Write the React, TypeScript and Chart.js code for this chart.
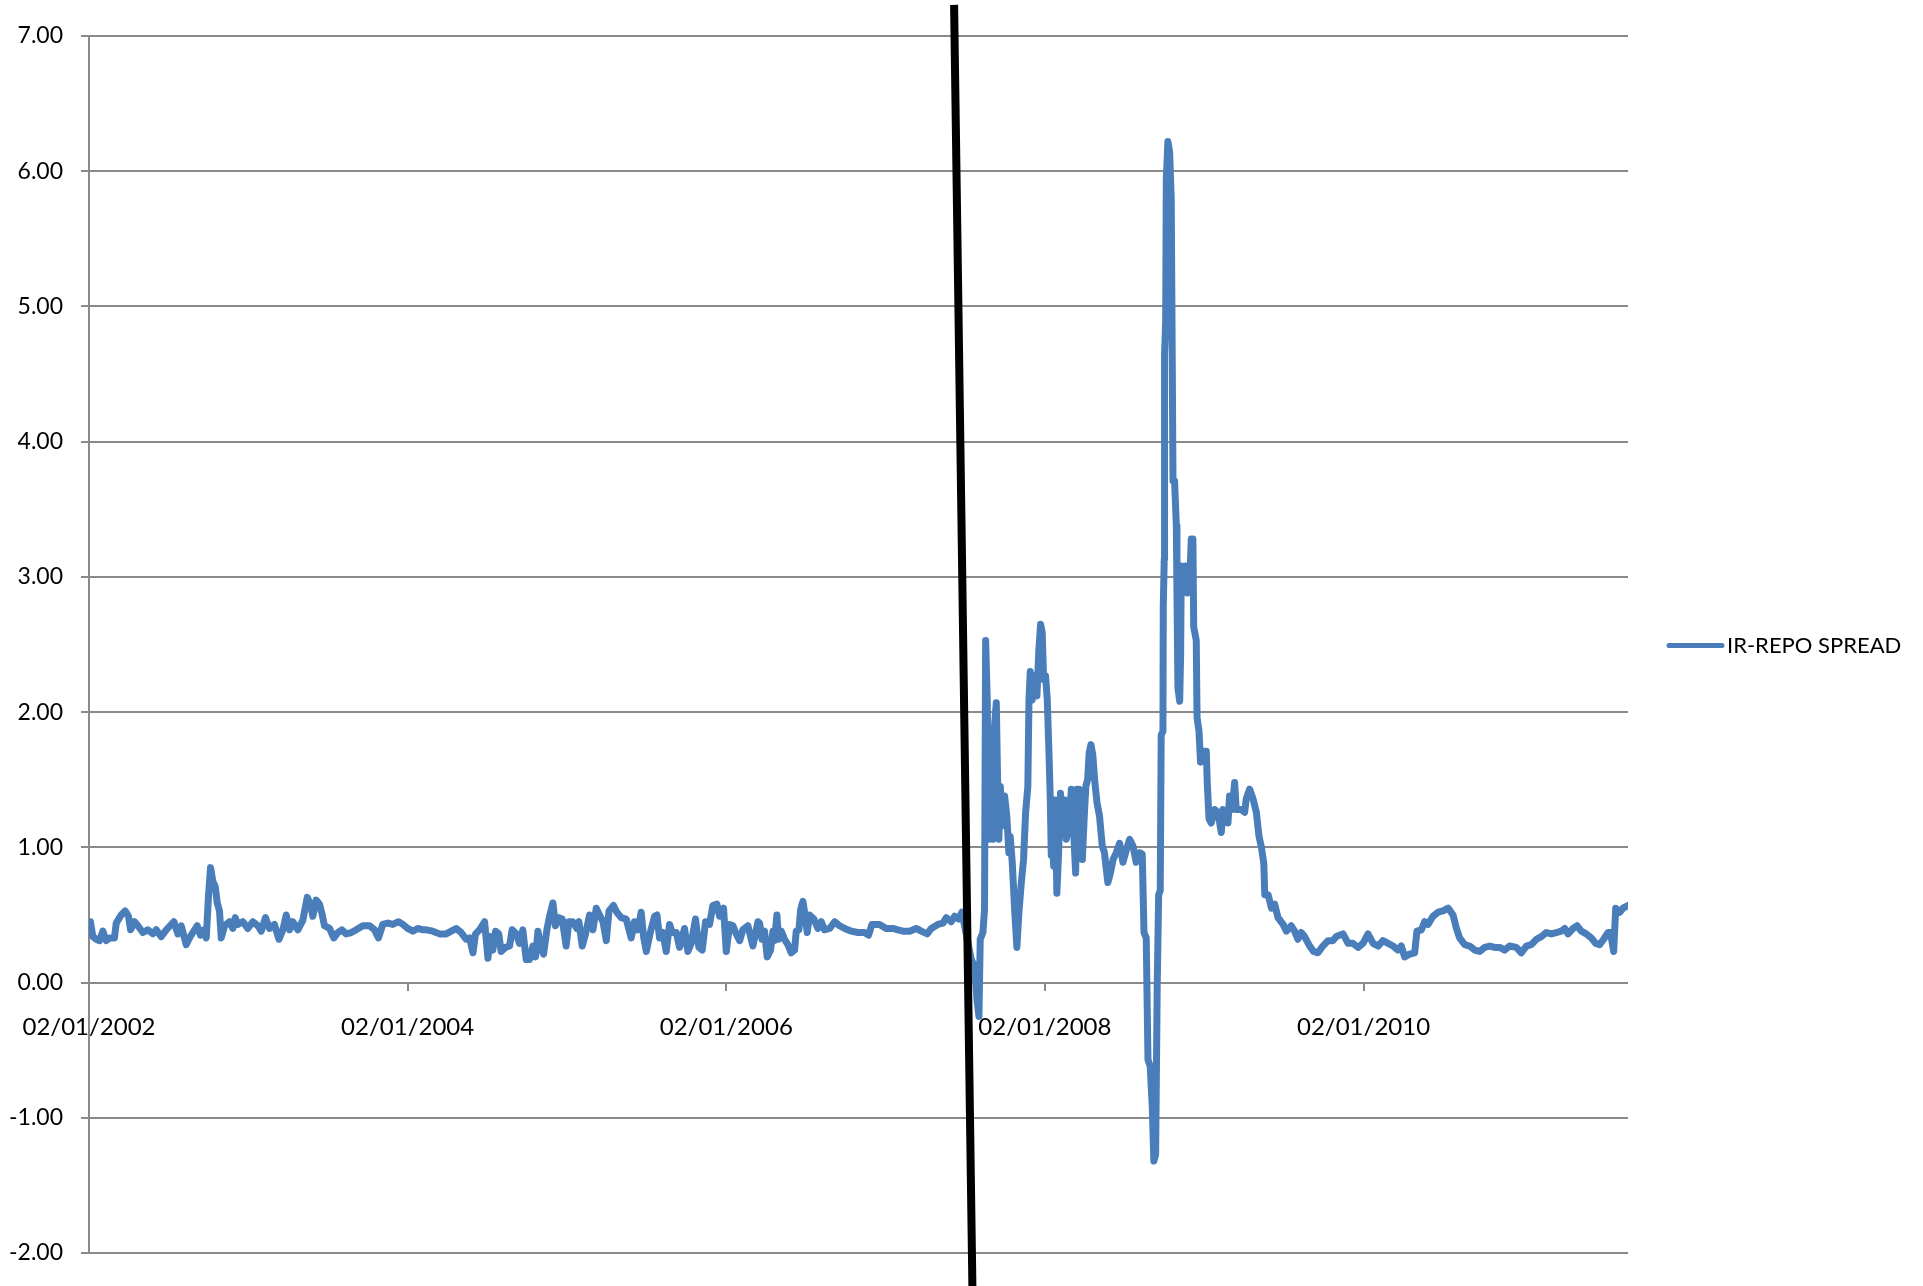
import React, { useEffect, useRef } from 'react';
import { Chart, registerables } from 'chart.js';

Chart.register(...registerables);

const seriesLabel = 'IR-REPO SPREAD';
const tickYears = [2002, 2004, 2006, 2008, 2010];
const tickLabels = ['02/01/2002', '02/01/2004', '02/01/2006', '02/01/2008', '02/01/2010'];
const yMin = -2;
const yMax = 7;
const xMin = 2002;
const xMax = 2011.66;

// 2002 - 2004
const dates2002 = [2002.009, 2002.024, 2002.045, 2002.066, 2002.087, 2002.108, 2002.129, 2002.16, 2002.171, 2002.202, 2002.227, 2002.248, 2002.261, 2002.286, 2002.307, 2002.338, 2002.369, 2002.401, 2002.422, 2002.453, 2002.485, 2002.533, 2002.558, 2002.579, 2002.61, 2002.631, 2002.652, 2002.679, 2002.7, 2002.721, 2002.736, 2002.75, 2002.763, 2002.777, 2002.792, 2002.805, 2002.819, 2002.83, 2002.851, 2002.882, 2002.903, 2002.918, 2002.934, 2002.966, 2002.997, 2003.028, 2003.06, 2003.081, 2003.108, 2003.133, 2003.164, 2003.192, 2003.217, 2003.238, 2003.259, 2003.279, 2003.311, 2003.342, 2003.37, 2003.39, 2003.405, 2003.426, 2003.447, 2003.462, 2003.478, 2003.51, 2003.537, 2003.562, 2003.587, 2003.614, 2003.646, 2003.677, 2003.719, 2003.761, 2003.792, 2003.817, 2003.844, 2003.876, 2003.907, 2003.943, 2003.97, 2004.001, 2004.033, 2004.064, 2004.096];
const spread2002 = [0.45, 0.34, 0.32, 0.31, 0.38, 0.31, 0.33, 0.33, 0.44, 0.5, 0.53, 0.49, 0.39, 0.45, 0.42, 0.37, 0.39, 0.36, 0.39, 0.34, 0.39, 0.45, 0.36, 0.42, 0.28, 0.33, 0.37, 0.42, 0.35, 0.39, 0.33, 0.64, 0.85, 0.75, 0.71, 0.59, 0.53, 0.33, 0.42, 0.45, 0.4, 0.48, 0.43, 0.45, 0.4, 0.45, 0.42, 0.38, 0.48, 0.4, 0.43, 0.32, 0.39, 0.5, 0.39, 0.45, 0.39, 0.46, 0.63, 0.58, 0.49, 0.61, 0.58, 0.51, 0.42, 0.4, 0.33, 0.37, 0.39, 0.36, 0.37, 0.39, 0.42, 0.42, 0.39, 0.33, 0.43, 0.44, 0.43, 0.45, 0.43, 0.4, 0.38, 0.4, 0.39];

// 2004 - 2006
const dates2004 = [2004.117, 2004.158, 2004.2, 2004.242, 2004.274, 2004.305, 2004.336, 2004.368, 2004.389, 2004.41, 2004.426, 2004.452, 2004.483, 2004.504, 2004.518, 2004.535, 2004.552, 2004.572, 2004.587, 2004.614, 2004.64, 2004.656, 2004.682, 2004.702, 2004.723, 2004.744, 2004.765, 2004.786, 2004.803, 2004.818, 2004.832, 2004.853, 2004.874, 2004.891, 2004.912, 2004.928, 2004.949, 2004.97, 2004.995, 2005.012, 2005.037, 2005.062, 2005.075, 2005.096, 2005.117, 2005.142, 2005.163, 2005.184, 2005.205, 2005.226, 2005.247, 2005.264, 2005.292, 2005.313, 2005.341, 2005.372, 2005.403, 2005.424, 2005.445, 2005.466, 2005.481, 2005.498, 2005.523, 2005.55, 2005.565, 2005.581, 2005.602, 2005.623, 2005.644, 2005.661, 2005.686, 2005.707, 2005.738, 2005.759, 2005.78, 2005.807, 2005.828, 2005.849, 2005.87, 2005.895, 2005.916, 2005.941, 2005.958, 2005.983, 2006.0, 2006.021, 2006.042, 2006.058, 2006.084, 2006.104, 2006.136, 2006.167, 2006.199];
const spread2004 = [0.39, 0.38, 0.36, 0.36, 0.38, 0.4, 0.37, 0.32, 0.33, 0.22, 0.36, 0.39, 0.45, 0.18, 0.34, 0.24, 0.38, 0.36, 0.23, 0.26, 0.27, 0.39, 0.36, 0.29, 0.39, 0.17, 0.17, 0.27, 0.19, 0.38, 0.28, 0.21, 0.39, 0.49, 0.59, 0.42, 0.48, 0.47, 0.27, 0.45, 0.45, 0.4, 0.45, 0.27, 0.36, 0.5, 0.39, 0.55, 0.5, 0.45, 0.31, 0.53, 0.57, 0.52, 0.48, 0.47, 0.33, 0.45, 0.39, 0.52, 0.34, 0.23, 0.37, 0.49, 0.5, 0.33, 0.37, 0.23, 0.43, 0.37, 0.37, 0.26, 0.4, 0.23, 0.29, 0.47, 0.26, 0.24, 0.45, 0.43, 0.57, 0.58, 0.49, 0.55, 0.23, 0.43, 0.42, 0.37, 0.31, 0.39, 0.42, 0.27, 0.45];

// 2006 - mid 2007
const dates2006 = [2006.209, 2006.224, 2006.24, 2006.257, 2006.278, 2006.293, 2006.303, 2006.318, 2006.328, 2006.345, 2006.366, 2006.387, 2006.408, 2006.429, 2006.439, 2006.456, 2006.467, 2006.481, 2006.496, 2006.508, 2006.523, 2006.55, 2006.575, 2006.596, 2006.617, 2006.649, 2006.68, 2006.711, 2006.743, 2006.785, 2006.826, 2006.868, 2006.893, 2006.914, 2006.962, 2007.004, 2007.046, 2007.077, 2007.109, 2007.151, 2007.192, 2007.224, 2007.261, 2007.287, 2007.328, 2007.36, 2007.381, 2007.412, 2007.433, 2007.459, 2007.479];
const spread2006 = [0.44, 0.32, 0.38, 0.19, 0.24, 0.38, 0.31, 0.5, 0.32, 0.38, 0.32, 0.28, 0.22, 0.24, 0.38, 0.39, 0.54, 0.6, 0.49, 0.37, 0.5, 0.47, 0.4, 0.45, 0.39, 0.4, 0.45, 0.42, 0.4, 0.38, 0.37, 0.37, 0.35, 0.43, 0.43, 0.4, 0.4, 0.39, 0.38, 0.38, 0.4, 0.38, 0.36, 0.4, 0.43, 0.44, 0.48, 0.45, 0.49, 0.47, 0.52];

// mid 2007 - mid 2008
const dates2007 = [2007.538, 2007.559, 2007.574, 2007.586, 2007.594, 2007.611, 2007.621, 2007.628, 2007.638, 2007.647, 2007.659, 2007.674, 2007.684, 2007.695, 2007.703, 2007.711, 2007.72, 2007.732, 2007.747, 2007.761, 2007.774, 2007.782, 2007.795, 2007.81, 2007.824, 2007.837, 2007.852, 2007.866, 2007.879, 2007.893, 2007.9, 2007.908, 2007.92, 2007.935, 2007.95, 2007.962, 2007.973, 2007.983, 2007.992, 2008.004, 2008.015, 2008.025, 2008.034, 2008.04, 2008.046, 2008.055, 2008.065, 2008.075, 2008.086, 2008.098, 2008.109, 2008.125, 2008.134, 2008.151, 2008.166, 2008.18, 2008.193, 2008.201, 2008.214, 2008.222, 2008.235, 2008.247, 2008.257, 2008.268, 2008.278, 2008.289, 2008.301, 2008.312, 2008.327, 2008.343, 2008.36, 2008.374, 2008.395, 2008.411, 2008.428, 2008.448, 2008.469, 2008.49, 2008.511, 2008.532, 2008.553, 2008.573, 2008.594, 2008.611];
const spread2007 = [0.17, 0.12, -0.13, -0.25, 0.32, 0.37, 0.54, 2.53, 2.09, 1.06, 1.77, 1.06, 1.9, 2.07, 1.5, 1.06, 1.45, 1.16, 1.38, 1.23, 0.96, 1.08, 0.89, 0.54, 0.26, 0.52, 0.74, 0.91, 1.26, 1.45, 2.09, 2.3, 2.09, 2.27, 2.12, 2.46, 2.65, 2.59, 2.24, 2.27, 2.09, 1.72, 1.35, 0.94, 1.23, 0.86, 1.35, 0.66, 0.96, 1.4, 1.11, 1.35, 1.06, 1.16, 1.43, 1.13, 0.81, 1.43, 1.43, 1.16, 0.91, 1.23, 1.45, 1.5, 1.7, 1.76, 1.68, 1.5, 1.33, 1.23, 1.01, 0.96, 0.74, 0.81, 0.91, 0.96, 1.03, 0.89, 0.98, 1.06, 1.01, 0.89, 0.96, 0.95];

// mid 2008 - mid 2009
const dates2008 = [2008.622, 2008.636, 2008.647, 2008.661, 2008.674, 2008.684, 2008.695, 2008.705, 2008.714, 2008.724, 2008.73, 2008.741, 2008.743, 2008.749, 2008.751, 2008.758, 2008.762, 2008.772, 2008.783, 2008.793, 2008.804, 2008.814, 2008.825, 2008.829, 2008.835, 2008.846, 2008.852, 2008.856, 2008.867, 2008.882, 2008.894, 2008.909, 2008.919, 2008.929, 2008.934, 2008.95, 2008.955, 2008.967, 2008.977, 2008.992, 2009.013, 2009.019, 2009.03, 2009.044, 2009.065, 2009.086, 2009.107, 2009.118, 2009.134, 2009.149, 2009.159, 2009.176, 2009.191, 2009.201, 2009.233, 2009.254, 2009.264, 2009.285, 2009.306, 2009.327, 2009.344, 2009.359, 2009.374, 2009.38, 2009.401, 2009.422, 2009.442, 2009.463, 2009.495, 2009.516];
const spread2008 = [0.37, 0.33, -0.57, -0.62, -0.92, -1.32, -1.27, -0.02, 0.65, 0.68, 1.83, 1.86, 2.78, 3.13, 4.64, 4.89, 5.94, 6.22, 6.14, 5.79, 3.71, 3.71, 3.38, 2.88, 2.18, 2.08, 2.43, 3.08, 2.98, 3.08, 2.88, 2.98, 3.28, 3.28, 2.63, 2.53, 1.96, 1.86, 1.63, 1.71, 1.71, 1.48, 1.21, 1.18, 1.28, 1.26, 1.11, 1.28, 1.23, 1.18, 1.38, 1.28, 1.48, 1.28, 1.28, 1.26, 1.36, 1.43, 1.36, 1.26, 1.08, 1.0, 0.88, 0.65, 0.65, 0.55, 0.58, 0.48, 0.43, 0.38];

// mid 2009 - 2011
const dates2009 = [2009.546, 2009.567, 2009.588, 2009.609, 2009.63, 2009.662, 2009.686, 2009.714, 2009.745, 2009.777, 2009.808, 2009.829, 2009.871, 2009.903, 2009.934, 2009.965, 2009.997, 2010.028, 2010.06, 2010.091, 2010.122, 2010.154, 2010.185, 2010.216, 2010.237, 2010.258, 2010.289, 2010.321, 2010.335, 2010.363, 2010.384, 2010.405, 2010.436, 2010.468, 2010.499, 2010.531, 2010.562, 2010.583, 2010.603, 2010.635, 2010.666, 2010.698, 2010.729, 2010.76, 2010.792, 2010.823, 2010.855, 2010.886, 2010.917, 2010.959, 2010.99, 2011.022, 2011.053, 2011.085, 2011.116, 2011.147, 2011.179, 2011.21, 2011.241, 2011.263, 2011.284, 2011.315, 2011.341, 2011.367, 2011.398, 2011.43, 2011.457, 2011.482, 2011.507, 2011.535, 2011.55, 2011.57, 2011.583, 2011.608, 2011.629, 2011.66];
const spread2009 = [0.42, 0.38, 0.32, 0.37, 0.34, 0.27, 0.23, 0.22, 0.27, 0.31, 0.31, 0.34, 0.36, 0.29, 0.29, 0.26, 0.29, 0.36, 0.29, 0.27, 0.31, 0.29, 0.27, 0.24, 0.27, 0.19, 0.21, 0.22, 0.38, 0.39, 0.45, 0.43, 0.49, 0.52, 0.53, 0.55, 0.5, 0.4, 0.33, 0.28, 0.27, 0.24, 0.23, 0.26, 0.27, 0.26, 0.26, 0.24, 0.27, 0.26, 0.22, 0.27, 0.28, 0.32, 0.34, 0.37, 0.36, 0.37, 0.38, 0.4, 0.36, 0.4, 0.42, 0.38, 0.36, 0.33, 0.29, 0.28, 0.32, 0.37, 0.37, 0.23, 0.55, 0.52, 0.55, 0.57];

// hand-drawn black marker line, in data coordinates (top end, bottom end)
const markerLine = { x1: 2007.43, y1: 7.23, x2: 2007.545, y2: -2.25 };

const allDates = [...dates2002, ...dates2004, ...dates2006, ...dates2007, ...dates2008, ...dates2009];
const allSpread = [...spread2002, ...spread2004, ...spread2006, ...spread2007, ...spread2008, ...spread2009];

const LINE_COLOR = '#4a7ebb';
const GRID_COLOR = '#8a8a8a';
const FONT = { family: 'Lato', size: 24 };
const Y_FONT = { family: 'Lato', size: 23 };
const LEGEND_FONT_SIZE = 22;

const overlayPlugin = {
  id: 'overlay',
  afterDatasetsDraw(chart: any) {
    const { ctx, chartArea } = chart;
    const xs = chart.scales.x;
    const ys = chart.scales.y;
    ctx.save();
    // marker line
    ctx.strokeStyle = '#000000';
    ctx.lineWidth = 8;
    ctx.lineCap = 'butt';
    ctx.beginPath();
    ctx.moveTo(xs.getPixelForValue(markerLine.x1), ys.getPixelForValue(markerLine.y1));
    ctx.lineTo(xs.getPixelForValue(markerLine.x2), ys.getPixelForValue(markerLine.y2));
    ctx.stroke();
    // legend
    const lx = chartArea.right + 41;
    const ly = (chartArea.top + chartArea.bottom) / 2 + 1;
    ctx.strokeStyle = LINE_COLOR;
    ctx.lineWidth = 5;
    ctx.lineCap = 'round';
    ctx.beginPath();
    ctx.moveTo(lx, ly);
    ctx.lineTo(lx + 53, ly);
    ctx.stroke();
    ctx.fillStyle = '#000000';
    ctx.font = `${LEGEND_FONT_SIZE}px Lato`;
    ctx.textAlign = 'left';
    ctx.textBaseline = 'middle';
    ctx.fillText(seriesLabel, lx + 58, ly);
    ctx.restore();
  },
};

export default function App() {
  const canvasRef = useRef<HTMLCanvasElement | null>(null);

  useEffect(() => {
    const canvas = canvasRef.current;
    if (!canvas) return;
    const points = allDates.map((d, i) => ({ x: d, y: allSpread[i] }));
    const chart = new Chart(canvas, {
      type: 'line',
      data: {
        datasets: [
          {
            label: seriesLabel,
            data: points,
            borderColor: LINE_COLOR,
            backgroundColor: LINE_COLOR,
            borderWidth: 7,
            pointRadius: 0,
            tension: 0,
            fill: false,
            borderJoinStyle: 'round',
            borderCapStyle: 'round',
          },
        ],
      },
      options: {
        responsive: false,
        maintainAspectRatio: false,
        animation: false,
        layout: { padding: { left: 0, right: 295, top: 36, bottom: 33 } },
        plugins: { legend: { display: false }, tooltip: { enabled: false } },
        scales: {
          x: {
            type: 'linear',
            position: { y: 0 } as any,
            min: xMin,
            max: xMax,
            afterFit: (s: any) => {
              s.height = 0;
            },
            afterBuildTicks: (s: any) => {
              s.ticks = tickYears.map((v) => ({ value: v }));
            },
            ticks: {
              autoSkip: false,
              maxRotation: 0,
              minRotation: 0,
              padding: 22,
              color: '#000000',
              font: FONT,
              callback: (v: any) => {
                const i = tickYears.indexOf(Number(v));
                return i >= 0 ? tickLabels[i] : '';
              },
            },
            grid: { drawOnChartArea: false, drawTicks: true, tickLength: 8, color: GRID_COLOR, lineWidth: 2 },
            border: { display: false },
          },
          y: {
            type: 'linear',
            min: yMin,
            max: yMax,
            afterFit: (s: any) => {
              s.width = 89;
            },
            ticks: {
              stepSize: 1,
              padding: 18,
              color: '#000000',
              font: Y_FONT,
              callback: (v: any) => Number(v).toFixed(2),
            },
            grid: { color: GRID_COLOR, lineWidth: 2, tickLength: 8, drawTicks: true },
            border: { display: true, color: GRID_COLOR, width: 2 },
          },
        },
      },
      plugins: [overlayPlugin],
    });
    return () => chart.destroy();
  }, []);

  return (
    <div style={{ position: 'absolute', left: 0, top: 0, width: 1923, height: 1286, background: '#ffffff' }}>
      <canvas ref={canvasRef} width={1923} height={1286} style={{ display: 'block' }} />
    </div>
  );
}
